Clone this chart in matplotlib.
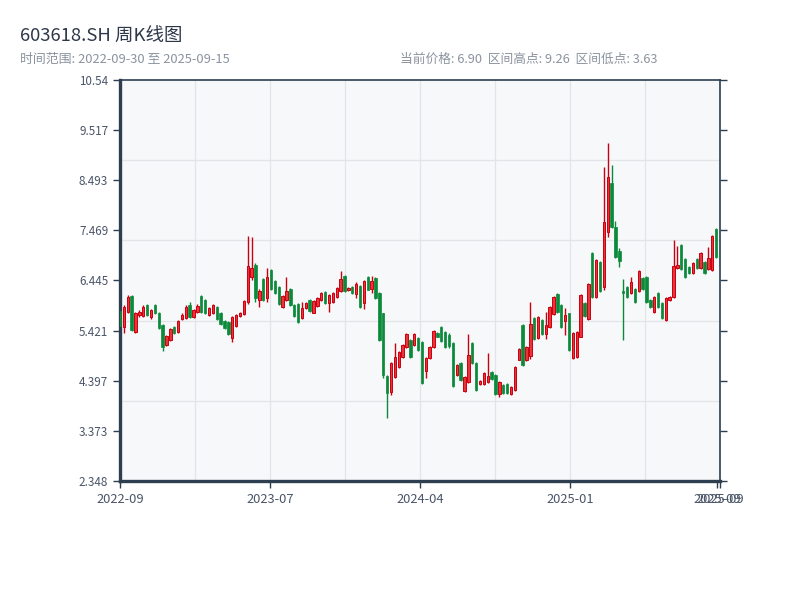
import matplotlib
matplotlib.use("Agg")
import matplotlib.pyplot as plt
import numpy as np

plt.rcParams["font.family"] = ["Noto Sans CJK SC", "DejaVu Sans"]

# weekly OHLC (red = up, green = down)
opens = [
    5.82, 5.50, 5.80, 6.13, 5.40, 5.74, 5.72, 5.94, 5.70, 5.94,
    5.78, 5.53, 5.13, 5.23, 5.49, 5.40, 5.65, 5.68, 5.95, 5.70,
    5.81, 6.12, 6.05, 5.74, 5.78, 5.90, 5.79, 5.62, 5.60, 5.26,
    5.52, 5.72, 5.75, 6.01, 6.52, 6.76, 6.05, 6.47, 6.09, 6.66,
    6.43, 6.32, 5.91, 6.05, 6.28, 5.94, 5.97, 5.68, 5.88, 6.05,
    5.79, 5.92, 6.05, 6.21, 5.98, 6.00, 6.11, 6.22, 6.54, 6.24,
    6.32, 6.17, 6.33, 5.99, 6.51, 6.27, 6.49, 6.18, 5.77, 4.50,
    4.17, 4.48, 4.68, 4.89, 5.09, 5.23, 5.13, 5.26, 5.19, 4.60,
    4.86, 5.09, 5.38, 5.50, 5.40, 5.33, 5.17, 4.51, 4.75, 4.19,
    4.38, 5.17, 4.75, 4.33, 4.33, 4.38, 4.58, 4.51, 4.12, 4.31,
    4.33, 4.12, 4.21, 4.83, 5.53, 4.82, 4.90, 5.67, 5.26, 5.64,
    5.36, 5.49, 5.76, 6.17, 5.94, 5.62, 5.77, 4.86, 4.89, 5.30,
    5.98, 5.65, 7.00, 6.11, 6.82, 6.31, 7.44, 8.43, 7.54, 7.05,
    6.22, 6.32, 6.19, 6.28, 6.22, 6.49, 6.52, 6.04, 5.81, 6.19,
    5.99, 5.64, 6.05, 6.11, 6.70, 7.17, 6.88, 6.72, 6.59, 6.88,
    6.69, 6.83, 6.67, 6.66, 7.49, 6.98,
]
highs = [
    5.84, 5.95, 6.14, 6.15, 5.80, 5.85, 5.95, 5.96, 5.86, 5.96,
    5.80, 5.55, 5.33, 5.47, 5.51, 5.64, 5.78, 5.95, 6.00, 5.86,
    5.97, 6.14, 6.07, 5.90, 5.96, 5.92, 5.81, 5.64, 5.62, 5.72,
    5.76, 5.80, 6.04, 7.35, 7.33, 6.80, 6.27, 6.49, 6.69, 6.68,
    6.45, 6.34, 6.15, 6.52, 6.30, 5.96, 5.99, 6.01, 6.00, 6.07,
    6.04, 6.11, 6.20, 6.23, 6.17, 6.21, 6.31, 6.64, 6.56, 6.32,
    6.34, 6.42, 6.35, 6.45, 6.53, 6.53, 6.51, 6.20, 5.79, 4.52,
    4.77, 5.16, 5.01, 5.15, 5.37, 5.25, 5.37, 5.28, 5.21, 4.89,
    5.11, 5.44, 5.40, 5.52, 5.42, 5.38, 5.19, 4.73, 4.77, 4.50,
    5.36, 5.19, 4.77, 4.42, 4.58, 4.96, 4.60, 4.53, 4.40, 4.33,
    4.35, 4.29, 4.70, 5.06, 5.55, 5.11, 6.01, 5.69, 5.72, 5.66,
    5.81, 5.93, 6.12, 6.19, 5.96, 5.88, 5.79, 5.39, 5.42, 6.17,
    6.00, 6.39, 7.02, 6.88, 6.84, 8.77, 9.26, 8.80, 7.65, 7.11,
    6.47, 6.34, 6.52, 6.30, 6.66, 6.51, 6.54, 6.06, 6.13, 6.21,
    6.01, 6.10, 6.13, 7.27, 7.15, 7.19, 6.90, 6.74, 6.83, 6.90,
    7.02, 6.85, 7.12, 7.37, 7.51, 7.05,
]
lows = [
    5.49, 5.37, 5.78, 5.42, 5.38, 5.70, 5.70, 5.72, 5.66, 5.76,
    5.45, 5.00, 5.10, 5.21, 5.35, 5.38, 5.63, 5.66, 5.68, 5.68,
    5.79, 5.79, 5.76, 5.72, 5.76, 5.63, 5.53, 5.45, 5.34, 5.18,
    5.50, 5.69, 5.73, 5.97, 6.45, 6.00, 5.91, 6.03, 6.01, 6.26,
    6.16, 5.95, 5.89, 6.03, 5.92, 5.70, 5.58, 5.66, 5.86, 5.80,
    5.77, 5.90, 6.03, 5.96, 5.81, 5.98, 6.09, 6.20, 6.20, 6.22,
    6.16, 6.08, 5.88, 5.86, 6.24, 6.18, 6.06, 5.20, 4.45, 3.63,
    4.10, 4.46, 4.66, 4.87, 5.07, 4.87, 5.11, 5.00, 4.33, 4.45,
    4.84, 5.07, 5.28, 5.19, 5.06, 5.06, 4.27, 4.49, 4.39, 4.17,
    4.36, 4.74, 4.19, 4.31, 4.31, 4.36, 4.41, 4.10, 4.06, 4.13,
    4.12, 4.10, 4.19, 4.81, 4.70, 4.80, 4.85, 5.22, 5.24, 5.33,
    5.24, 5.47, 5.74, 5.79, 5.47, 5.33, 5.00, 4.84, 4.87, 5.28,
    5.70, 5.63, 6.08, 6.09, 6.21, 6.24, 7.33, 7.51, 6.90, 6.71,
    5.23, 6.09, 6.16, 5.99, 6.20, 6.26, 5.99, 5.88, 5.79, 5.88,
    5.65, 5.62, 6.03, 6.08, 6.68, 6.65, 6.49, 6.58, 6.57, 6.67,
    6.67, 6.58, 6.65, 6.64, 6.90, 6.74,
]
closes = [
    5.51, 5.90, 6.10, 5.44, 5.78, 5.80, 5.90, 5.74, 5.84, 5.78,
    5.47, 5.08, 5.31, 5.45, 5.37, 5.62, 5.74, 5.90, 5.70, 5.84,
    5.92, 5.81, 5.78, 5.88, 5.94, 5.65, 5.55, 5.47, 5.36, 5.70,
    5.74, 5.77, 6.02, 6.74, 6.69, 6.09, 6.23, 6.05, 6.52, 6.28,
    6.18, 5.97, 6.13, 6.23, 5.94, 5.72, 5.60, 5.88, 5.98, 5.82,
    6.02, 6.09, 6.18, 5.98, 6.15, 6.19, 6.29, 6.47, 6.22, 6.30,
    6.18, 6.37, 5.90, 6.43, 6.26, 6.43, 6.08, 5.22, 4.51, 4.15,
    4.75, 4.89, 4.99, 5.13, 5.35, 4.89, 5.35, 5.02, 4.35, 4.86,
    5.09, 5.42, 5.30, 5.21, 5.08, 5.10, 4.29, 4.71, 4.41, 4.48,
    4.92, 4.76, 4.21, 4.40, 4.56, 4.49, 4.43, 4.12, 4.38, 4.15,
    4.14, 4.27, 4.68, 5.04, 4.72, 5.09, 5.56, 5.24, 5.70, 5.35,
    5.53, 5.91, 6.10, 5.81, 5.49, 5.74, 5.02, 5.37, 5.40, 6.15,
    5.72, 6.37, 6.10, 6.86, 6.23, 7.63, 8.56, 7.54, 6.93, 6.85,
    6.18, 6.11, 6.42, 6.01, 6.64, 6.28, 6.01, 5.90, 6.11, 5.90,
    5.67, 6.08, 6.11, 6.73, 6.76, 6.67, 6.51, 6.60, 6.81, 6.69,
    7.00, 6.60, 6.90, 7.35, 6.92, 6.90,
]

x_tick_pos = [0, 38.75, 77.5, 116.25, 154.2, 155]
x_tick_labels = ["2022-09", "2023-07", "2024-04", "2025-01", "2025-09", "2025-09"]
y_tick_labels = ["2.348", "3.373", "4.397", "5.421", "6.445", "7.469", "8.493", "9.517", "10.54"]

RED_FACE = "#e8343a"
RED_EDGE = "#c8000f"
GREEN = "#0b8a3c"
SPINE = "#2c3e50"

o = np.array(opens)
h = np.array(highs)
l = np.array(lows)
c = np.array(closes)
x = np.arange(len(o))
up = c >= o

fig = plt.figure(figsize=(8, 6), dpi=100)
ax = fig.add_axes([0.15, 0.1983, 0.75, 0.6684])
ax.set_facecolor("#f6f8fa")

# background grid (independent of the price ticks)
for f in [0.2, 0.4, 0.6, 0.8]:
    ax.plot([0, 1], [f, f], transform=ax.transAxes, color="#e1e5ea", lw=0.9, zorder=0)
for f in np.arange(1, 8) / 8:
    ax.plot([f, f], [0, 1], transform=ax.transAxes, color="#e1e5ea", lw=0.9, zorder=0)

ax.vlines(x[up], l[up], h[up], color=RED_EDGE, lw=1.0, zorder=2)
ax.vlines(x[~up], l[~up], h[~up], color=GREEN, lw=1.0, zorder=2)
ax.bar(x[up], np.maximum(c[up] - o[up], 0.02), bottom=o[up], width=0.62,
       color=RED_FACE, edgecolor=RED_EDGE, lw=0.7, zorder=3)
ax.bar(x[~up], np.maximum(o[~up] - c[~up], 0.02), bottom=c[~up], width=0.62,
       color=GREEN, edgecolor=GREEN, lw=0.5, zorder=3)

ax.set_xlim(0, len(o) - 1)
ax.set_ylim(2.348, 10.54)
ax.set_yticks([float(v) for v in y_tick_labels])
ax.set_yticklabels(y_tick_labels)
ax.set_xticks(x_tick_pos)
ax.set_xticklabels(x_tick_labels)

ax.tick_params(axis="both", colors=SPINE, labelcolor="#4a5568", length=5, width=1)
ax.tick_params(axis="x", labelsize=9.3)
ax.tick_params(axis="y", labelsize=8.4, right=True)
for side in ["left", "bottom"]:
    ax.spines[side].set_linewidth(2.4)
    ax.spines[side].set_color(SPINE)
for side in ["top", "right"]:
    ax.spines[side].set_linewidth(1.2)
    ax.spines[side].set_color(SPINE)

fig.text(0.025, 0.939, "603618.SH 周K线图", fontsize=13.3, color="#2d3748", va="center")
fig.text(0.025, 0.901, "时间范围: 2022-09-30 至 2025-09-15", fontsize=9.3, color="#8a939f", va="center")
fig.text(0.5, 0.901, "当前价格: 6.90  区间高点: 9.26  区间低点: 3.63", fontsize=9.2, color="#8a939f", va="center")

fig.savefig("out.png", dpi=100)
